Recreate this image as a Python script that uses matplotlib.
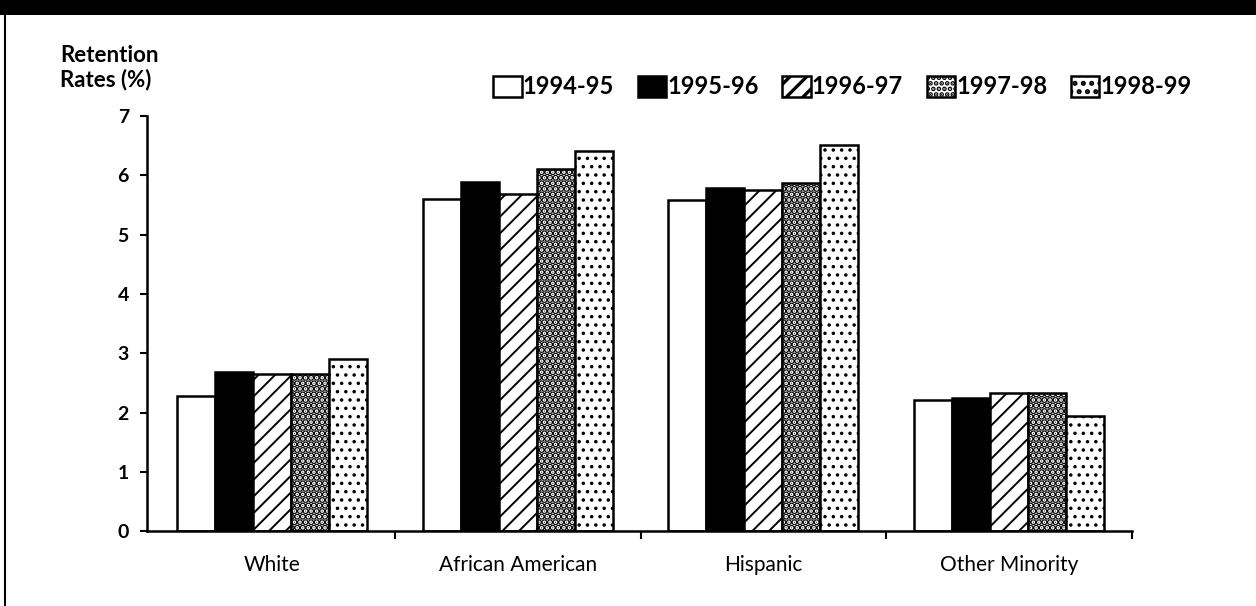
import matplotlib
matplotlib.use("Agg")
import numpy as np
import matplotlib.pyplot as plt
from matplotlib.patches import Rectangle
from matplotlib.lines import Line2D
from matplotlib.ticker import FixedLocator

# data
groups = ['White', 'African American', 'Hispanic', 'Other Minority']
years = ['1994-95', '1995-96', '1996-97', '1997-98', '1998-99']
white = [2.28, 2.69, 2.65, 2.65, 2.90]
african_american = [5.60, 5.89, 5.69, 6.10, 6.40]
hispanic = [5.58, 5.78, 5.75, 5.86, 6.50]
other_minority = [2.21, 2.24, 2.33, 2.33, 1.94]
yticks = [0, 1, 2, 3, 4, 5, 6, 7]

values = np.array([white, african_american, hispanic, other_minority])

# look of each year's bars (black & white print style)
faces = ['white', 'black', 'white', 'white', 'white']
hatches = ['', '', '//', '...', '..']
hatch_lw = [1.3, 1.3, 1.4, 3.4, 1.3]

plt.rcParams['font.family'] = ['Lato', 'DejaVu Sans']
plt.rcParams['hatch.color'] = 'black'

fig = plt.figure(figsize=(12.56, 6.06), dpi=100)
ax = fig.add_axes([0.117, 0.123, 0.784, 0.686])

x = np.arange(len(groups))
w = 0.155
for i, yr in enumerate(years):
    # hatch line width is picked up from rcParams when the patch is made
    with plt.rc_context({'hatch.linewidth': hatch_lw[i]}):
        ax.bar(x + (i - 2) * w, values[:, i], width=w, color=faces[i],
               edgecolor='black', linewidth=1.8, hatch=hatches[i], label=yr)

ax.set_xlim(-0.51, 3.5)
ax.set_ylim(0, 7)
ax.set_yticks(yticks)
ax.set_yticklabels([str(t) for t in yticks], fontsize=14, fontweight='bold')
ax.set_xticks(x)
ax.set_xticklabels(groups, fontsize=15)
ax.xaxis.set_minor_locator(FixedLocator([0.5, 1.5, 2.5, 3.5]))
ax.tick_params(axis='x', which='major', length=0, pad=17)
ax.tick_params(axis='x', which='minor', length=6, width=1.5, direction='out')
ax.tick_params(axis='y', length=5, width=1.5, direction='out', pad=8)
for side in ['top', 'right']:
    ax.spines[side].set_visible(False)
for side in ['left', 'bottom']:
    ax.spines[side].set_linewidth(1.8)

# y axis title, top left
fig.text(60 / 1256, 1 - 62 / 606, 'Retention', fontsize=16, fontweight='bold',
         ha='left', va='baseline')
fig.text(60 / 1256, 1 - 86 / 606, 'Rates (%)', fontsize=16, fontweight='bold',
         ha='left', va='baseline')

handles, labels = ax.get_legend_handles_labels()
with plt.rc_context({'hatch.linewidth': 2.4}):
    leg = fig.legend(handles, labels, loc='center left',
                     bbox_to_anchor=(472 / 1256, 1 - 87 / 606),
                     ncol=5, frameon=False, handlelength=1.2, handleheight=1.0,
                     handletextpad=0.05, columnspacing=1.0,
                     prop={'size': 17, 'weight': 'bold'})

# black band at the top and the page border on the left
fig.patches.append(Rectangle((0, 1 - 15 / 606), 1, 15 / 606, transform=fig.transFigure,
                             facecolor='black', edgecolor='none'))
fig.lines.append(Line2D([5 / 1256, 5 / 1256], [0, 1], transform=fig.transFigure,
                        color='black', linewidth=1.5))

fig.savefig('out.png', dpi=100)
